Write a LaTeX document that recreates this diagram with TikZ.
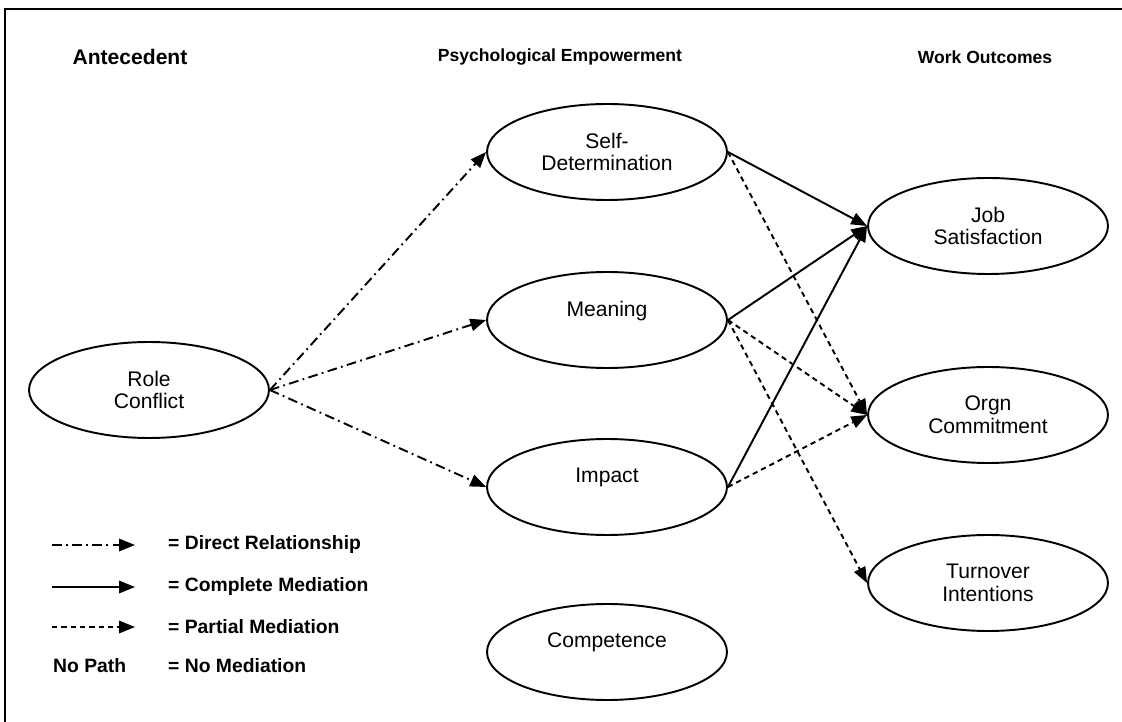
\documentclass[tikz,border=0pt]{standalone}
\usepackage{fontspec}
\setmainfont{Liberation Sans}
\usetikzlibrary{shapes.geometric,arrows.meta}

\tikzset{
  construct/.style={draw, ellipse, line width=1.1pt, minimum width=4.8cm,
    minimum height=1.92cm, inner sep=0pt, align=center,
    font=\fontsize{12}{13}\selectfont},
  heading/.style={font=\bfseries\fontsize{10}{12}\selectfont},
  key/.style={anchor=west, font=\bfseries\fontsize{11}{13}\selectfont},
  path/.style={line width=1.1pt, -{Triangle[length=9pt,width=7pt]}},
  direct/.style={path, dash pattern=on 5.5pt off 2.5pt on 1pt off 2.5pt},
  complete/.style={path},
  partial/.style={path, dash pattern=on 3pt off 2.3pt}
}

\begin{document}
\begin{tikzpicture}[x=0.02cm, y=-0.02cm]
  \useasboundingbox (0,0) rectangle (1122,722);
  % frame
  \draw[line width=0.8pt] (1122,9) -- (5,9) -- (5,722);

  % headings
  \node[heading, font=\bfseries\fontsize{12}{14}\selectfont] (antecedent) at (130,57) {Antecedent};
  \node[heading] (empowerment) at (560,57) {Psychological Empowerment};
  \node[heading] (outcomes) at (985,57) {Work Outcomes};

  % constructs
  \node[construct] (rc) at (149,390) {Role\\Conflict};
  \node[construct] (sd) at (607,152) {Self-\\Determination};
  \node[construct] (mn) at (607,320) {Meaning\\\mbox{}};
  \node[construct] (im) at (607,487) {Impact\\\mbox{}};
  \node[construct] (cp) at (607,652) {Competence\\\mbox{}};
  \node[construct] (js) at (988,226) {Job\\Satisfaction};
  \node[construct] (oc) at (988,415) {Orgn\\Commitment};
  \node[construct] (ti) at (988,583) {Turnover\\Intentions};

  % direct relationships
  \foreach \to in {sd, mn, im}
    \draw[direct] (rc.east) -- (\to.west);

  % mediation
  \foreach \from in {sd, mn, im}
    \draw[complete] (\from.east) -- (js.west);
  \foreach \from/\to in {sd/oc, mn/oc, mn/ti, im/oc}
    \draw[partial] (\from.east) -- (\to.west);

  % legend
  \foreach \i/\y in {1/545, 2/587, 3/627} {
    \coordinate (k\i a) at (52,\y);
    \coordinate (k\i b) at (135,\y);
  }
  \draw[direct] (k1a) -- (k1b);
  \draw[complete] (k2a) -- (k2b);
  \draw[partial] (k3a) -- (k3b);
  \node[key] (kdirect) at (162,545) {= Direct Relationship};
  \node[key] (kcomplete) at (162,587) {= Complete Mediation};
  \node[key] (kpartial) at (162,627) {= Partial Mediation};
  \node[key] (knopath) at (47,666) {No Path};
  \node[key] (knone) at (162,666) {= No Mediation};
\end{tikzpicture}
\end{document}
